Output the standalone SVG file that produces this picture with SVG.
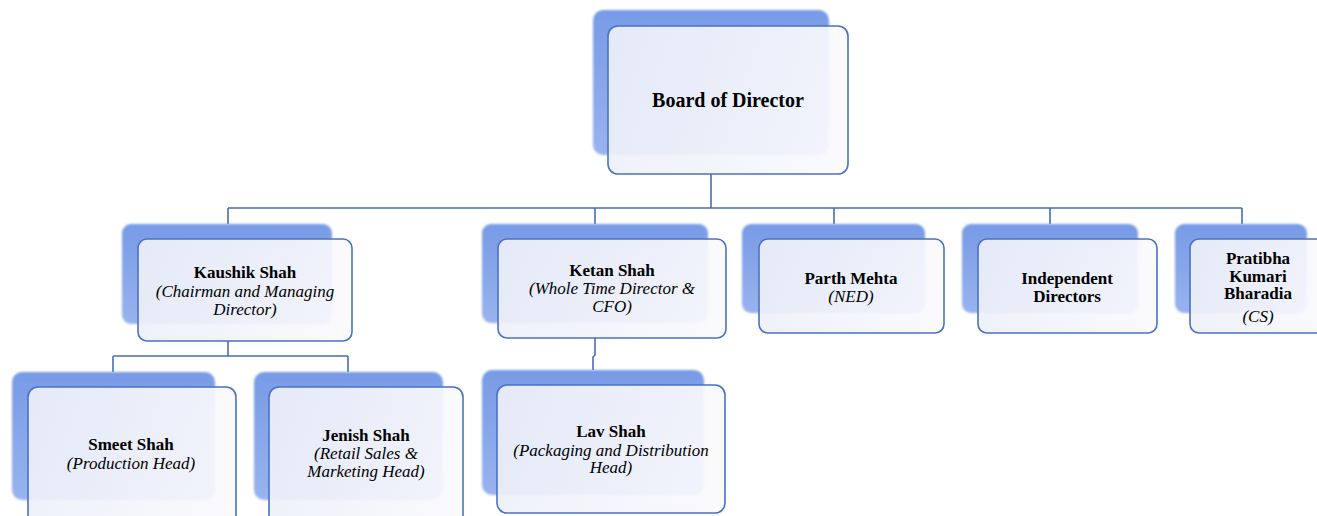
<svg xmlns="http://www.w3.org/2000/svg" width="1317" height="516" viewBox="0 0 1317 516">
<defs>
<linearGradient id="bg" x1="0" y1="0" x2="0" y2="1">
<stop offset="0" stop-color="#789be6"/>
<stop offset="1" stop-color="#98b3ee"/>
</linearGradient>
<linearGradient id="fg" x1="0" y1="0" x2="1" y2="0">
<stop offset="0" stop-color="#eef0f9"/>
<stop offset="1" stop-color="#fafafd"/>
</linearGradient>
<filter id="blur" x="-10%" y="-10%" width="120%" height="120%"><feGaussianBlur stdDeviation="1.2"/></filter>
</defs>
<style>
.back{fill:url(#bg);filter:url(#blur)}
.front{fill:url(#fg);fill-opacity:0.92;stroke:#4a72c4;stroke-width:1.6}
.conn{fill:none;stroke:#4a6db4;stroke-width:1.6}
text{font-family:"Liberation Serif","Times New Roman","DejaVu Serif",serif;fill:#000;text-anchor:middle}
.n{font-weight:bold;font-size:17px}
.r{font-style:italic;font-size:17px}
.t{font-weight:bold;font-size:20px}
</style>
<rect width="1317" height="516" fill="#fff"/>
<g id="connectors">
<path class="conn" d="M711 174 V208 M228 208 H1242 M228 208 V224 M595 208 V224 M834 208 V224 M1050 208 V224 M1242 208 V224"/>
<path class="conn" d="M228 341 V356 M113 356 H348 M113 356 V372 M348 356 V372"/>
<path class="conn" d="M595 338 V355 L593 357 V370"/>
</g>
<g id="board">
<rect class="back" x="593" y="10" width="236" height="145" rx="10"/>
<rect class="front" x="608" y="26" width="240" height="148" rx="10"/>
<text class="t" x="728" y="107">Board of Director</text>
</g>
<g id="kaushik">
<rect class="back" x="122" y="224" width="210" height="100" rx="9"/>
<rect class="front" x="138" y="239" width="214" height="102" rx="9"/>
<text class="n" x="245" y="278">Kaushik Shah</text>
<text class="r" x="245" y="297">(Chairman and Managing</text>
<text class="r" x="245" y="315">Director)</text>
</g>
<g id="ketan">
<rect class="back" x="482" y="224" width="226" height="99" rx="9"/>
<rect class="front" x="498" y="239" width="228" height="99" rx="9"/>
<text class="n" x="612" y="276">Ketan Shah</text>
<text class="r" x="612" y="294">(Whole Time Director &amp;</text>
<text class="r" x="612" y="312">CFO)</text>
</g>
<g id="parth">
<rect class="back" x="742" y="224" width="183" height="89" rx="9"/>
<rect class="front" x="759" y="239" width="185" height="94" rx="9"/>
<text class="n" x="851" y="284">Parth Mehta</text>
<text class="r" x="851" y="302">(NED)</text>
</g>
<g id="independent">
<rect class="back" x="962" y="224" width="176" height="89" rx="9"/>
<rect class="front" x="978" y="239" width="179" height="94" rx="9"/>
<text class="n" x="1067" y="284">Independent</text>
<text class="n" x="1067" y="302">Directors</text>
</g>
<g id="pratibha">
<rect class="back" x="1175" y="224" width="132" height="89" rx="9"/>
<rect class="front" x="1190" y="239" width="140" height="94" rx="9"/>
<text class="n" x="1258" y="264">Pratibha</text>
<text class="n" x="1258" y="282">Kumari</text>
<text class="n" x="1258" y="299">Bharadia</text>
<text class="r" x="1258" y="322">(CS)</text>
</g>
<g id="smeet">
<rect class="back" x="12" y="372" width="203" height="128" rx="10"/>
<rect class="front" x="28" y="387" width="208" height="140" rx="10"/>
<text class="n" x="131" y="450">Smeet Shah</text>
<text class="r" x="131" y="469">(Production Head)</text>
</g>
<g id="jenish">
<rect class="back" x="254" y="372" width="189" height="128" rx="10"/>
<rect class="front" x="269" y="387" width="194" height="140" rx="10"/>
<text class="n" x="366" y="441">Jenish Shah</text>
<text class="r" x="366" y="459">(Retail Sales &amp;</text>
<text class="r" x="366" y="477">Marketing Head)</text>
</g>
<g id="lav">
<rect class="back" x="482" y="370" width="222" height="125" rx="10"/>
<rect class="front" x="497" y="385" width="228" height="128" rx="10"/>
<text class="n" x="611" y="437">Lav Shah</text>
<text class="r" x="611" y="456">(Packaging and Distribution</text>
<text class="r" x="611" y="473">Head)</text>
</g>
</svg>
